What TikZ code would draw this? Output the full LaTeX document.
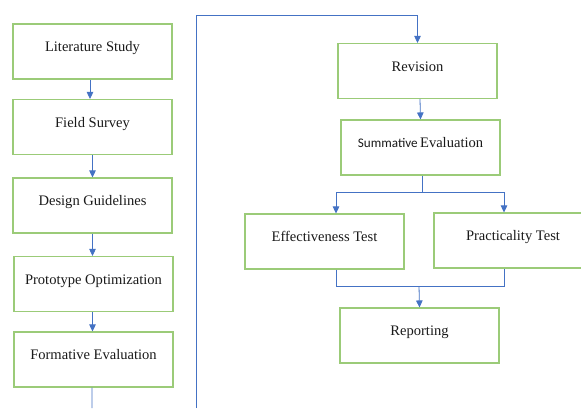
\documentclass[tikz,border=0pt]{standalone}
\usepackage{fontspec}
\setmainfont{Liberation Serif}
\newfontfamily\carl{Carlito}
\usetikzlibrary{arrows.meta}
\definecolor{boxgreen}{HTML}{9BCB78}
\definecolor{linkblue}{HTML}{4472C4}
\definecolor{txt}{HTML}{1A1A1A}
\tikzset{
  stepbox/.style={draw=boxgreen, line width=1.1bp, fill=white, minimum width=159bp, minimum height=55bp,
    inner sep=0pt, text height=8bp, text depth=8bp, text=txt, font=\fontsize{14.6}{16}\selectfont},
  link/.style={draw=linkblue, line width=0.8bp},
  arr/.style={link, -{Triangle[width=6.5bp,length=7bp]}}
}
\begin{document}
\begin{tikzpicture}[x=1bp,y=-1bp]
\clip (0,0) rectangle (581,408);
\fill[white] (0,0) rectangle (581,408);
% left column
\node[stepbox] (lit) at (92.5,51.5) {Literature Study};
\node[stepbox] (field) at (92.5,127) {Field Survey};
\node[stepbox] (design) at (92.5,205.5) {Design Guidelines};
\node[stepbox] (proto) at (93.5,284) {Prototype Optimization};
\node[stepbox] (form) at (93.5,359.5) {Formative Evaluation};
% right part
\node[stepbox] (rev) at (417.5,71) {Revision};
\node[stepbox] (summ) at (420.5,147.5) {{\carl\fontsize{13.2}{15}\selectfont Summative}\,Evaluation};
\node[stepbox] (eff) at (324.5,241.5) {Effectiveness Test};
\node[stepbox, minimum width=158bp] (prac) at (513,240.5) {Practicality Test};
\node[stepbox] (rep) at (419.5,335.5) {Reporting};
% coordinates
\coordinate (formend) at (92,408);
\coordinate (loopstart) at (196,408);
\coordinate (split) at (422,192);
\coordinate (join) at (419,286);
% connectors
\draw[arr] ([xshift=-2.5bp]lit.south) -- ([xshift=-2.5bp]field.north);
\draw[arr] (field.south) -- (design.north);
\draw[arr] (design.south) -- ([xshift=-1bp]proto.north);
\draw[arr] ([xshift=-1bp]proto.south) -- ([xshift=-1bp]form.north);
\draw[link] ([xshift=-1.5bp]form.south) -- (formend);
\draw[arr] (loopstart) |- (rev.north |- 0,15) -- (rev.north);
\draw[arr] ([xshift=2.5bp]rev.south) -- (summ.north);
\draw[link] ([xshift=1.5bp]summ.south) -- (split);
\draw[arr] (split) -| ([xshift=11.5bp]eff.north);
\draw[arr] (split) -| ([xshift=-9bp]prac.north);
\draw[link] ([xshift=11.5bp]eff.south) |- (join) -| ([xshift=-9bp]prac.south);
\draw[arr] (join) -- (rep.north);
\end{tikzpicture}
\end{document}
